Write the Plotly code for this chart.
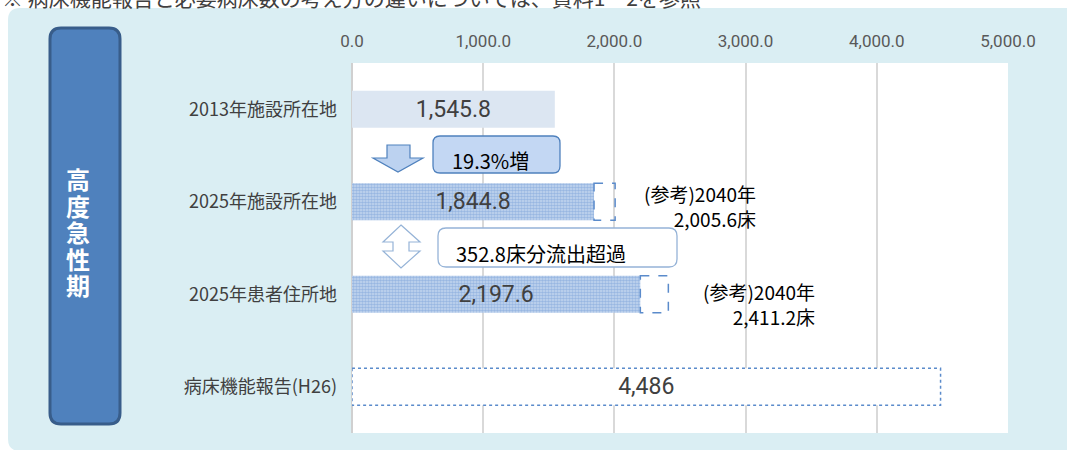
import plotly.graph_objects as go

# ---------------- data ----------------
categories = ["2013年施設所在地", "2025年施設所在地", "2025年患者住所地", "病床機能報告(H26)"]
beds_2013 = [1545.8]
beds_2025 = [1844.8, 2197.6]
beds_2040_ref = [2005.6, 2411.2]
beds_report_h26 = [4486]
x_tick_values = [0, 1000, 2000, 3000, 4000, 5000]
panel_title = "高度急性期"
note_text = "※ 病床機能報告と必要病床数の考え方の違いについては、資料1－2を参照"

# ---------------- geometry helpers (pixel -> paper) ----------------
W, H = 1067, 450
L, R, T, B = 352, 1008, 63, 433


def px(x):
    return (x - L) / (R - L)


def py(y):
    return (B - y) / (B - T)


def pt(x, y):
    return f"{px(x):.5f},{py(y):.5f}"


def rounded_path(x0, y0, x1, y1, r):
    return (f"M {pt(x0 + r, y0)} L {pt(x1 - r, y0)} Q {pt(x1, y0)} {pt(x1, y0 + r)} "
            f"L {pt(x1, y1 - r)} Q {pt(x1, y1)} {pt(x1 - r, y1)} "
            f"L {pt(x0 + r, y1)} Q {pt(x0, y1)} {pt(x0, y1 - r)} "
            f"L {pt(x0, y0 + r)} Q {pt(x0, y0)} {pt(x0 + r, y0)} Z")


def poly_path(points):
    return "M " + " L ".join(pt(x, y) for x, y in points) + " Z"


JP = "Noto Sans CJK JP"
NUM = "Roboto"

fig = go.Figure()

# 2013 bar
fig.add_trace(go.Bar(
    y=categories[:1], x=beds_2013, orientation="h", width=0.4,
    marker=dict(color="#DCE6F2", line=dict(width=0)),
    texttemplate="%{x:,.1f}", textposition="inside", insidetextanchor="middle",
    textfont=dict(family=NUM, size=23, color="#404040"), hoverinfo="skip",
))
# 2025 bars (patterned)
fig.add_trace(go.Bar(
    y=categories[1:3], x=beds_2025, orientation="h", width=0.4,
    marker=dict(color="#C0D4EE", line=dict(width=0),
                pattern=dict(shape=".", fgcolor="#6A96D2", bgcolor="#C6D8F0", size=3, solidity=0.6)),
    texttemplate="%{x:,.1f}", textposition="inside", insidetextanchor="middle",
    textfont=dict(family=NUM, size=23, color="#404040"), hoverinfo="skip",
))
# H26 report bar
fig.add_trace(go.Bar(
    y=categories[3:], x=beds_report_h26, orientation="h", width=0.4,
    marker=dict(color="#FFFFFF", line=dict(width=0)),
    texttemplate="%{x:,.0f}", textposition="inside", insidetextanchor="middle",
    textfont=dict(family=NUM, size=23, color="#404040"), hoverinfo="skip",
))

shapes = []
# light-blue panel
shapes.append(dict(type="path", xref="paper", yref="paper", layer="below",
                   path=rounded_path(8, 8, 1090, 451, 12),
                   fillcolor="#DAEEF3", line=dict(width=0)))
# white plot area
shapes.append(dict(type="rect", xref="paper", yref="paper", layer="below",
                   x0=0, x1=1, y0=0, y1=1, fillcolor="#FFFFFF", line=dict(width=0)))
# left blue title box
shapes.append(dict(type="path", xref="paper", yref="paper", layer="below",
                   path=rounded_path(50, 28, 120, 424, 11),
                   fillcolor="#4F81BD", line=dict(color="#385D8A", width=3)))

# dashed 2040 reference extensions
for i, (v, ref) in enumerate(zip(beds_2025, beds_2040_ref), start=1):
    shapes.append(dict(type="rect", xref="x", yref="y", layer="above",
                       x0=v, x1=ref, y0=i - 0.2, y1=i + 0.2,
                       fillcolor="rgba(0,0,0,0)", line=dict(color="#5B8BCB", width=1.5, dash="dash")))
# dotted outline for H26 report
shapes.append(dict(type="rect", xref="x", yref="y", layer="above",
                   x0=0, x1=beds_report_h26[0], y0=3 - 0.2, y1=3 + 0.2,
                   fillcolor="rgba(0,0,0,0)", line=dict(color="#5B8BCB", width=1.5, dash="dot")))

# down arrow
shapes.append(dict(type="path", xref="paper", yref="paper", layer="above",
                   path=poly_path([(387, 145), (410, 145), (410, 158), (423, 158), (398, 172),
                                   (373, 158), (387, 158)]),
                   fillcolor="#BCD2F0", line=dict(color="#4F81BD", width=1.2)))
# increase box
shapes.append(dict(type="path", xref="paper", yref="paper", layer="above",
                   path=rounded_path(433, 136, 560, 173, 7),
                   fillcolor="#C3D7F3", line=dict(color="#4F81BD", width=1.3)))
# up-down arrow
shapes.append(dict(type="path", xref="paper", yref="paper", layer="above",
                   path=poly_path([(401, 225), (420, 242), (409, 242), (409, 251), (420, 251),
                                   (401, 268), (383, 251), (393, 251), (393, 242), (383, 242)]),
                   fillcolor="#FFFFFF", line=dict(color="#95B3D7", width=1.2)))
# outflow box
shapes.append(dict(type="path", xref="paper", yref="paper", layer="above",
                   path=rounded_path(438, 228, 677, 267, 8),
                   fillcolor="#FFFFFF", line=dict(color="#95B3D7", width=1.3)))

annotations = []
# cut-off note at top
annotations.append(dict(xref="paper", yref="paper", x=px(0), y=py(-3), xanchor="left", yanchor="middle",
                        text=note_text, showarrow=False, font=dict(family=JP, size=21, color="#404040")))
# vertical title
for i, ch in enumerate(panel_title):
    annotations.append(dict(xref="paper", yref="paper", x=px(78), y=py(178.5 + i * 26.6),
                            xanchor="center", yanchor="middle", text=f"<b>{ch}</b>", showarrow=False,
                            font=dict(family=JP, size=24, color="#FFFFFF")))
# increase rate
rate = (beds_2025[0] / beds_2013[0] - 1) * 100
annotations.append(dict(xref="paper", yref="paper", x=px(490), y=py(160), xanchor="center", yanchor="middle",
                        text=f"{rate:.1f}%増", showarrow=False, font=dict(family=JP, size=20, color="#000000")))
# outflow
outflow = beds_2025[1] - beds_2025[0]
annotations.append(dict(xref="paper", yref="paper", x=px(541), y=py(253), xanchor="center", yanchor="middle",
                        text=f"{outflow:.1f}床分流出超過", showarrow=False,
                        font=dict(family=JP, size=20, color="#000000")))
# 2040 reference notes
for ref, xr, yc in zip(beds_2040_ref, [758, 817], [206, 304]):
    annotations.append(dict(xref="paper", yref="paper", x=px(xr), y=py(yc), xanchor="right", yanchor="middle",
                            align="right", text=f"(参考)2040年<br>{ref:,.1f}床", showarrow=False,
                            font=dict(family=JP, size=19, color="#000000")))

fig.update_layout(
    width=W, height=H,
    margin=dict(l=L, r=W - R, t=T, b=H - B, pad=0),
    paper_bgcolor="#FFFFFF", plot_bgcolor="#FFFFFF",
    barmode="overlay", showlegend=False,
    shapes=shapes, annotations=annotations,
    xaxis=dict(side="top", range=[0, 5000], tickvals=x_tick_values, tickformat=",.1f",
               showgrid=True, gridcolor="#D9D9D9", gridwidth=1.5,
               zeroline=True, zerolinecolor="#D0D0D0", zerolinewidth=2,
               ticks="", ticklabelstandoff=12,
               tickfont=dict(family=NUM, size=17, color="#595959"), fixedrange=True),
    yaxis=dict(type="category", categoryorder="array", categoryarray=categories, range=[3.5, -0.5],
               showgrid=False, zeroline=False, ticks="", ticklabelstandoff=14,
               tickfont=dict(family=JP, size=18, color="#404040"), fixedrange=True),
)

fig.write_html("out.html", config={"displayModeBar": False},
               post_script="document.body.style.margin='0';document.body.style.padding='0';")
